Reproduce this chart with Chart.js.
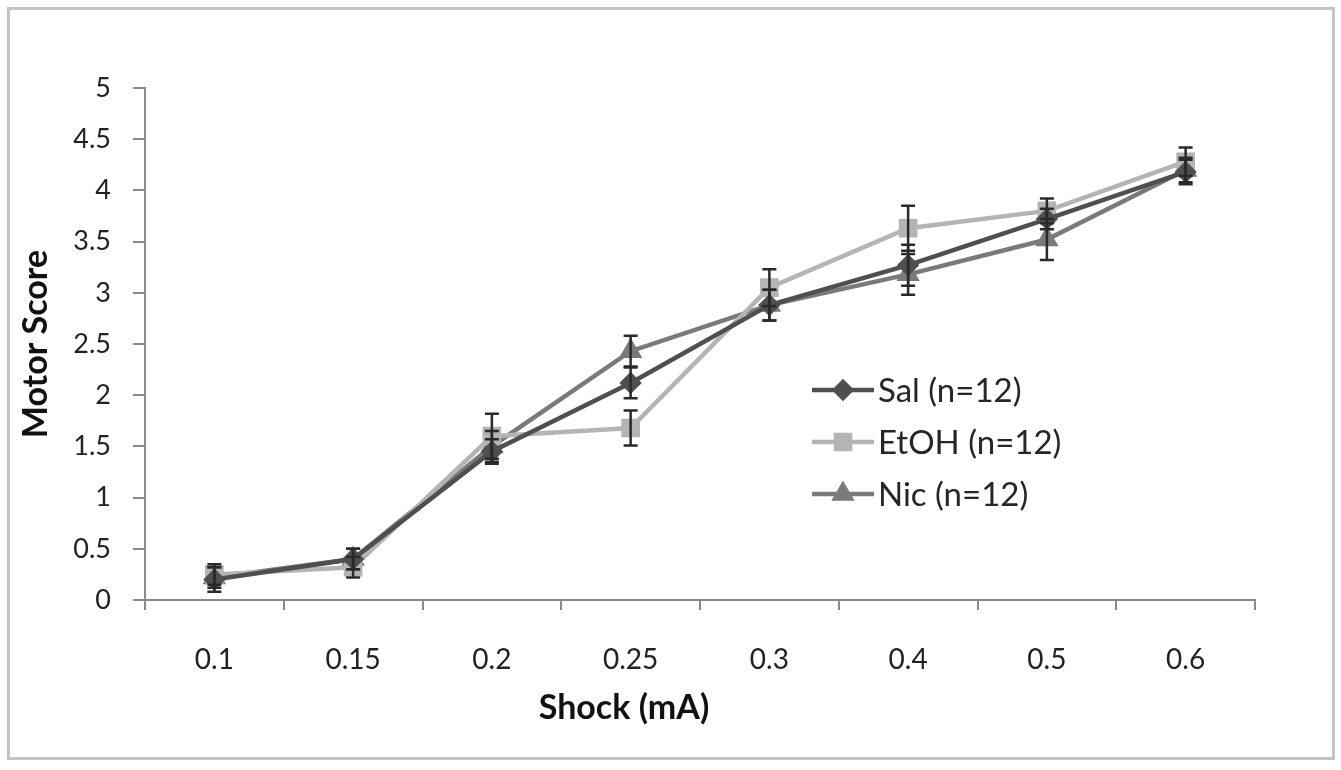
<!DOCTYPE html>
<html>
<head>
<meta charset="utf-8">
<script src="https://cdn.jsdelivr.net/npm/chart.js@4/dist/chart.umd.min.js"></script>
<style>
html,body{margin:0;padding:0;background:#fff;}
#wrap{width:1341px;height:770px;position:relative;}
</style>
</head>
<body>
<div id="wrap"><canvas id="c" width="1341" height="770"></canvas></div>
<script>
const shocks = ["0.1","0.15","0.2","0.25","0.3","0.4","0.5","0.6"]
const yTicks = [0,0.5,1,1.5,2,2.5,3,3.5,4,4.5,5]

const salValues = [0.2,0.4,1.45,2.12,2.88,3.27,3.72,4.18]
const salErr = [0.12,0.1,0.12,0.15,0.15,0.2,0.1,0.12]
const etohValues = [0.25,0.32,1.6,1.68,3.05,3.63,3.8,4.28]
const etohErr = [0.1,0.1,0.22,0.17,0.18,0.22,0.12,0.14]
const nicValues = [0.22,0.4,1.5,2.43,2.88,3.18,3.52,4.2]
const nicErr = [0.1,0.1,0.15,0.15,0.15,0.2,0.2,0.12]

const labels = ["Sal (n=12)","EtOH (n=12)","Nic (n=12)"]
const errs = [salErr, etohErr, nicErr]
const xTitle = "Shock (mA)"

const font = "Lato, 'Open Sans', sans-serif"

// outer frame
const framePlugin = {
id:"frame",
beforeDraw(chart){
const ctx = chart.ctx
ctx.save()
ctx.fillStyle = "#fff"
ctx.fillRect(0,0,chart.width,chart.height)
ctx.strokeStyle = "#c4c4c4"
ctx.lineWidth = 3
ctx.strokeRect(8.5,8.5,1325,750)
ctx.restore()
}
}

// error bars from the y scale
const errorPlugin = {
id:"errbars",
afterDatasetsDraw(chart){
const ctx = chart.ctx
const ys = chart.scales.y
ctx.save()
ctx.strokeStyle = "#2a2a2a"
ctx.lineWidth = 2.5
chart.data.datasets.forEach((ds,i)=>{
const meta = chart.getDatasetMeta(i)
meta.data.forEach((pt,j)=>{
const v = ds.data[j], e = errs[i][j]
const top = ys.getPixelForValue(v+e)
const bot = ys.getPixelForValue(v-e)
ctx.beginPath()
ctx.moveTo(pt.x,top); ctx.lineTo(pt.x,bot)
ctx.moveTo(pt.x-7,top); ctx.lineTo(pt.x+7,top)
ctx.moveTo(pt.x-7,bot); ctx.lineTo(pt.x+7,bot)
ctx.stroke()
})
})
ctx.restore()
}
}

// legend inside the plot + x title (sits left of centre like the original)
const legendPlugin = {
id:"inlegend",
afterDraw(chart){
const ctx = chart.ctx
ctx.save()
ctx.font = "33px " + font
ctx.textBaseline = "middle"
chart.data.datasets.forEach((ds,i)=>{
const y = 390 + i*52
ctx.strokeStyle = ds.borderColor
ctx.lineWidth = 4.5
ctx.beginPath(); ctx.moveTo(812,y); ctx.lineTo(874,y); ctx.stroke()
ctx.fillStyle = ds.backgroundColor
ctx.strokeStyle = ds.backgroundColor
Chart.helpers.drawPoint(ctx,{pointStyle:ds.pointStyle,radius:ds.pointRadius,rotation:0,borderWidth:1},843,y)
ctx.fillStyle = "#262626"
ctx.fillText(ds.label,878,y+1)
})
ctx.font = "bold 34px " + font
ctx.fillStyle = "#111"
ctx.textAlign = "center"
ctx.fillText(xTitle,624,708)
ctx.restore()
}
}

new Chart(document.getElementById("c").getContext("2d"),{
type:"line",
data:{
labels:shocks,
datasets:[
{label:labels[0],data:salValues,borderColor:"#4f4f4f",backgroundColor:"#4f4f4f",pointStyle:"rectRot",pointRadius:8,borderWidth:4.5},
{label:labels[1],data:etohValues,borderColor:"#b4b4b4",backgroundColor:"#b4b4b4",pointStyle:"rect",pointRadius:10,borderWidth:4.5},
{label:labels[2],data:nicValues,borderColor:"#7a7a7a",backgroundColor:"#7a7a7a",pointStyle:"triangle",pointRadius:9,borderWidth:4.5}
]
},
plugins:[framePlugin,errorPlugin,legendPlugin],
options:{
responsive:false,
animation:false,
devicePixelRatio:1,
layout:{padding:{left:12,top:88,right:86,bottom:38}},
plugins:{legend:{display:false},tooltip:{enabled:false}},
elements:{line:{tension:0},point:{borderWidth:1,hoverRadius:9}},
scales:{
x:{
offset:true,
grid:{offset:true,drawOnChartArea:false,drawTicks:true,tickLength:10,color:"#8a8a8a",lineWidth:2},
border:{color:"#8a8a8a",width:2},
ticks:{color:"#222",font:{family:font,size:28},padding:33},
title:{display:false},
afterFit(s){s.height=132}
},
y:{
min:0,max:5,
afterBuildTicks(s){s.ticks = yTicks.map(v=>({value:v}))},
grid:{drawOnChartArea:false,drawTicks:true,tickLength:12,color:"#8a8a8a",lineWidth:2},
border:{color:"#8a8a8a",width:2},
ticks:{color:"#222",font:{family:font,size:27},padding:22,callback:v=>String(v)},
title:{display:true,text:"Motor Score",color:"#111",font:{family:font,size:34,weight:"bold"},padding:{top:4,bottom:4}},
afterFit(s){s.width=133}
}
}
}
})
</script>
</body>
</html>
